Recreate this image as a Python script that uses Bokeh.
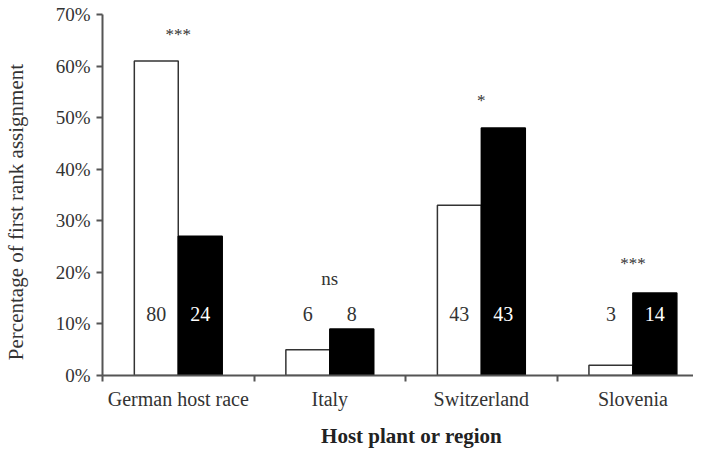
import math
from bokeh.plotting import figure
from bokeh.models import (ColumnDataSource, FixedTicker, PrintfTickFormatter,
                          Range1d, LinearAxis)
from bokeh.core.properties import value
from bokeh.embed import file_html
from bokeh.resources import INLINE

# ---- data ----
regions = ["German host race", "Italy", "Switzerland", "Slovenia"]
white_pct = [61, 5, 33, 2]
black_pct = [27, 9, 48, 16]
white_n = [80, 6, 43, 3]
black_n = [24, 8, 43, 14]
signif = ["***", "ns", "*", "***"]
y_ticks = [0, 10, 20, 30, 40, 50, 60, 70]
x_title = "Host plant or region"
y_title = "Percentage of first rank assignment"

FONT = "Liberation Serif"
TXT = "#333333"
AX = "#555555"

centers = [i + 0.5 for i in range(len(regions))]
bw = 0.29
off = 0.145

p = figure(width=693, height=450, output_backend="svg", toolbar_location=None,
           x_range=Range1d(0, 3.9), y_range=Range1d(0, 70),
           min_border_left=102, min_border_right=0, min_border_top=14,
           min_border_bottom=60)
p.outline_line_color = None
p.xgrid.visible = False
p.ygrid.visible = False

src = ColumnDataSource(dict(
    xw=[c - off for c in centers], xb=[c + off for c in centers],
    w=white_pct, b=black_pct))
p.vbar(x="xw", top="w", bottom=0, width=bw, source=src,
       fill_color="white", line_color="#333333", line_width=1.5)
p.vbar(x="xb", top="b", bottom=0, width=bw, source=src,
       fill_color="black", line_color="black", line_width=1.5)

# counts inside / above bars
cnt_y = 12
cnt_src = ColumnDataSource(dict(
    x=[c - off for c in centers] + [c + off for c in centers],
    y=[cnt_y] * 8,
    t=[str(v) for v in white_n] + [str(v) for v in black_n],
    col=[TXT] * 4 + ["white" if b > cnt_y + 3 else TXT for b in black_pct]))
p.text(x="x", y="y", text="t", source=cnt_src, text_color="col",
       text_align="center", text_baseline="middle", text_font=value(FONT),
       text_font_size="20px")

# significance labels
sig_y = [66.2, 18.8, 53.3, 21.8]
sig_size = ["17px", "19px", "17px", "17px"]
sig_src = ColumnDataSource(dict(x=centers, y=sig_y, t=signif, s=sig_size))
p.text(x="x", y="y", text="t", source=sig_src, text_color=TXT,
       text_align="center", text_baseline="alphabetic", text_font=value(FONT),
       text_font_size="s")

# y axis
ya = p.yaxis[0]
ya.ticker = FixedTicker(ticks=y_ticks, minor_ticks=[])
ya.formatter = PrintfTickFormatter(format="%d%%")
ya.major_tick_out = 6
ya.major_tick_in = 0
ya.minor_tick_out = 0
ya.minor_tick_in = 0
ya.major_label_standoff = 6
ya.axis_line_color = AX
ya.axis_line_width = 2
ya.major_tick_line_color = AX
ya.major_tick_line_width = 2
ya.major_label_text_font = FONT
ya.major_label_text_font_size = "19px"
ya.major_label_text_color = TXT

# y title as a vertical tick label of a second left axis (placed like the reference)
ytitle_pos = 31.7
ya2 = LinearAxis(ticker=FixedTicker(ticks=[ytitle_pos], minor_ticks=[]),
                 major_label_overrides={ytitle_pos: y_title},
                 major_label_orientation="vertical")
ya2.axis_line_color = None
ya2.major_tick_line_color = None
ya2.minor_tick_line_color = None
ya2.major_tick_out = 0
ya2.major_label_standoff = 24
ya2.major_label_text_font = FONT
ya2.major_label_text_font_size = "21px"
ya2.major_label_text_color = TXT
p.add_layout(ya2, "left")

# x axis
xa = p.xaxis[0]
xa.ticker = FixedTicker(ticks=centers, minor_ticks=[0, 1, 2, 3])
xa.major_label_overrides = {c: r for c, r in zip(centers, regions)}
xa.major_tick_out = 0
xa.major_tick_in = 0
xa.minor_tick_out = 6
xa.minor_tick_in = 0
xa.minor_tick_line_color = AX
xa.minor_tick_line_width = 2
xa.axis_line_color = AX
xa.axis_line_width = 2
xa.major_label_standoff = 6
xa.major_label_text_font = FONT
xa.major_label_text_font_size = "20px"
xa.major_label_text_color = TXT

# x title as a tick label of a second bottom axis (placed over the category centre)
title_pos = 2.04
xa2 = LinearAxis(ticker=FixedTicker(ticks=[title_pos], minor_ticks=[]),
                 major_label_overrides={title_pos: x_title})
xa2.axis_line_color = None
xa2.major_tick_line_color = None
xa2.minor_tick_line_color = None
xa2.major_tick_out = 0
xa2.major_label_standoff = 11
xa2.major_label_text_font = FONT
xa2.major_label_text_font_size = "21px"
xa2.major_label_text_font_style = "bold"
xa2.major_label_text_color = "#222222"
p.add_layout(xa2, "below")

open("out.html", "w").write(file_html(p, INLINE))
